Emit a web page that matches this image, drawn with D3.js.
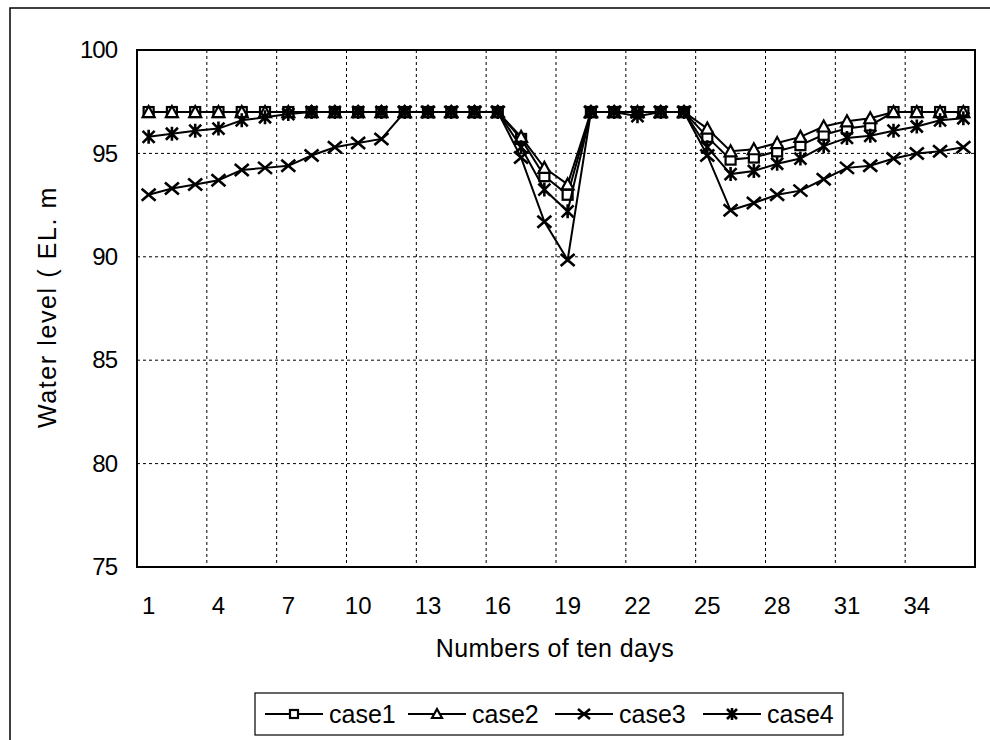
<!DOCTYPE html>
<html>
<head>
<meta charset="utf-8">
<script src="https://cdn.jsdelivr.net/npm/d3@7"></script>
<style>
  body { margin: 0; background: #fff; }
  text { font-family: "Liberation Sans", Arial, sans-serif; fill: #000; }
</style>
</head>
<body>
<div id="chart-holder"></div>
<script>
const days = [1, 2, 3, 4, 5, 6, 7, 8, 9, 10, 11, 12, 13, 14, 15, 16, 17, 18,
  19, 20, 21, 22, 23, 24, 25, 26, 27, 28, 29, 30, 31, 32, 33, 34, 35, 36];
const dayTicks = [1, 4, 7, 10, 13, 16, 19, 22, 25, 28, 31, 34];
const levelTicks = [75, 80, 85, 90, 95, 100];

const case1 = [97, 97, 97, 97, 97, 97, 97, 97, 97, 97, 97, 97, 97, 97, 97, 97,
  95.7, 93.9, 93.0, 97, 97, 97, 97, 97,
  95.8, 94.7, 94.8, 95.1, 95.4, 95.9, 96.2, 96.35, 97, 97, 97, 97];
const case2 = [97, 97, 97, 97, 97, 97, 97, 97, 97, 97, 97, 97, 97, 97, 97, 97,
  95.8, 94.3, 93.5, 97, 97, 97, 97, 97,
  96.2, 95.1, 95.2, 95.5, 95.8, 96.3, 96.55, 96.7, 97, 97, 97, 97];
const case3 = [93.0, 93.3, 93.5, 93.7, 94.2, 94.3, 94.4, 94.9, 95.3, 95.5, 95.7, 97, 97, 97, 97, 97,
  94.8, 91.7, 89.85, 97, 97, 97, 97, 97,
  94.9, 92.25, 92.6, 93.0, 93.2, 93.75, 94.3, 94.4, 94.75, 95.0, 95.1, 95.3];
const case4 = [95.8, 95.95, 96.1, 96.2, 96.6, 96.75, 96.9, 97, 97, 97, 97, 97, 97, 97, 97, 97,
  95.3, 93.25, 92.2, 97, 97, 96.8, 97, 97,
  95.3, 94.0, 94.15, 94.5, 94.75, 95.35, 95.75, 95.85, 96.1, 96.3, 96.6, 96.7];

const seriesNames = ["case1", "case2", "case3", "case4"];
const seriesShapes = ["square", "triangle", "cross", "star"];
const seriesValues = [case1, case2, case3, case4];

const width = 990;
const height = 740;
const marginLeft = 137;
const marginRight = 15;
const marginTop = 50;
const plotBottom = 567;

const svg = d3.select("#chart-holder").append("svg")
  .attr("width", width)
  .attr("height", height);

// outer frame (left and top edges visible)
svg.append("path")
  .attr("d", "M10,740 L10,8 L990,8")
  .attr("fill", "none")
  .attr("stroke", "#000")
  .attr("stroke-width", 1.5);

const x = d3.scaleBand()
  .domain(days)
  .range([marginLeft, width - marginRight])
  .padding(0);
const cx = (d) => x(d) + x.bandwidth() / 2;

const y = d3.scaleLinear()
  .domain([75, 100])
  .range([plotBottom, marginTop]);

// grid lines
svg.append("g")
  .selectAll("line")
  .data(levelTicks.filter((v) => v > 75 && v < 100))
  .join("line")
  .attr("x1", marginLeft)
  .attr("x2", width - marginRight)
  .attr("y1", (d) => y(d))
  .attr("y2", (d) => y(d))
  .attr("stroke", "#000")
  .attr("stroke-width", 1)
  .attr("stroke-dasharray", "3,3");

svg.append("g")
  .selectAll("line")
  .data(days.filter((d) => d % 3 === 0 && d < 36))
  .join("line")
  .attr("x1", (d) => x(d) + x.bandwidth())
  .attr("x2", (d) => x(d) + x.bandwidth())
  .attr("y1", marginTop)
  .attr("y2", plotBottom)
  .attr("stroke", "#000")
  .attr("stroke-width", 1)
  .attr("stroke-dasharray", "3,3");

// plot border
svg.append("rect")
  .attr("x", marginLeft)
  .attr("y", marginTop)
  .attr("width", width - marginRight - marginLeft)
  .attr("height", plotBottom - marginTop)
  .attr("fill", "none")
  .attr("stroke", "#000")
  .attr("stroke-width", 2);

// axes
const xAxis = svg.append("g")
  .attr("transform", `translate(0,${plotBottom})`)
  .call(d3.axisBottom(x).tickValues(dayTicks).tickSize(0).tickPadding(30));
xAxis.select(".domain").remove();
xAxis.selectAll("text").style("font-size", "24px");

const yAxis = svg.append("g")
  .attr("transform", `translate(${marginLeft},0)`)
  .call(d3.axisLeft(y).tickValues(levelTicks).tickSize(0).tickPadding(20));
yAxis.select(".domain").remove();
yAxis.selectAll("text").style("font-size", "24px").attr("letter-spacing", "-1");

// axis titles
svg.append("text")
  .attr("x", 555)
  .attr("y", 657)
  .attr("text-anchor", "middle")
  .style("font-size", "25px")
  .attr("letter-spacing", "0.4")
  .text("Numbers of ten days");

svg.append("text")
  .attr("transform", "translate(56,307) rotate(-90)")
  .attr("text-anchor", "middle")
  .style("font-size", "25px")
  .attr("letter-spacing", "1.6")
  .text("Water level ( EL. m");

// marker drawing
const drawMarker = (g, shape, px, py, s = 5) => {
  if (shape === "square") {
    g.append("rect")
      .attr("x", px - s).attr("y", py - s)
      .attr("width", 2 * s).attr("height", 2 * s)
      .attr("fill", "#fff").attr("stroke", "#000").attr("stroke-width", 2.2);
  } else if (shape === "triangle") {
    g.append("path")
      .attr("d", `M${px},${py - s - 1} L${px + s + 1},${py + s} L${px - s - 1},${py + s} Z`)
      .attr("fill", "#fff").attr("stroke", "#000").attr("stroke-width", 2.2);
  } else if (shape === "cross") {
    g.append("path")
      .attr("d", `M${px - s - 2},${py - s - 1} L${px + s + 2},${py + s + 1} M${px - s - 2},${py + s + 1} L${px + s + 2},${py - s - 1}`)
      .attr("stroke", "#000").attr("stroke-width", 2.6);
  } else {
    g.append("path")
      .attr("d", `M${px - s - 1},${py - s - 1} L${px + s + 1},${py + s + 1} M${px - s - 1},${py + s + 1} L${px + s + 1},${py - s - 1} M${px},${py - s - 2} L${px},${py + s + 2}`)
      .attr("stroke", "#000").attr("stroke-width", 2.6);
  }
};

const line = d3.line()
  .x((d, i) => cx(days[i]))
  .y((d) => y(d));

seriesValues.forEach((values, k) => {
  const g = svg.append("g");
  g.append("path")
    .datum(values)
    .attr("d", line)
    .attr("fill", "none")
    .attr("stroke", "#000")
    .attr("stroke-width", 2);
  values.forEach((v, i) => drawMarker(g, seriesShapes[k], cx(days[i]), y(v)));
});

// legend
const legend = svg.append("g");
legend.append("rect")
  .attr("x", 255)
  .attr("y", 693)
  .attr("width", 588)
  .attr("height", 42)
  .attr("fill", "#fff")
  .attr("stroke", "#000")
  .attr("stroke-width", 1.2);

const legendStarts = [265, 408, 555, 703];
seriesNames.forEach((name, k) => {
  const lx = legendStarts[k];
  const g = legend.append("g");
  g.append("line")
    .attr("x1", lx).attr("x2", lx + 58)
    .attr("y1", 714).attr("y2", 714)
    .attr("stroke", "#000").attr("stroke-width", 2);
  drawMarker(g, seriesShapes[k], lx + 29, 714, 4);
  g.append("text")
    .attr("x", lx + 64)
    .attr("y", 723)
    .style("font-size", "25px")
    .text(name);
});
</script>
</body>
</html>
